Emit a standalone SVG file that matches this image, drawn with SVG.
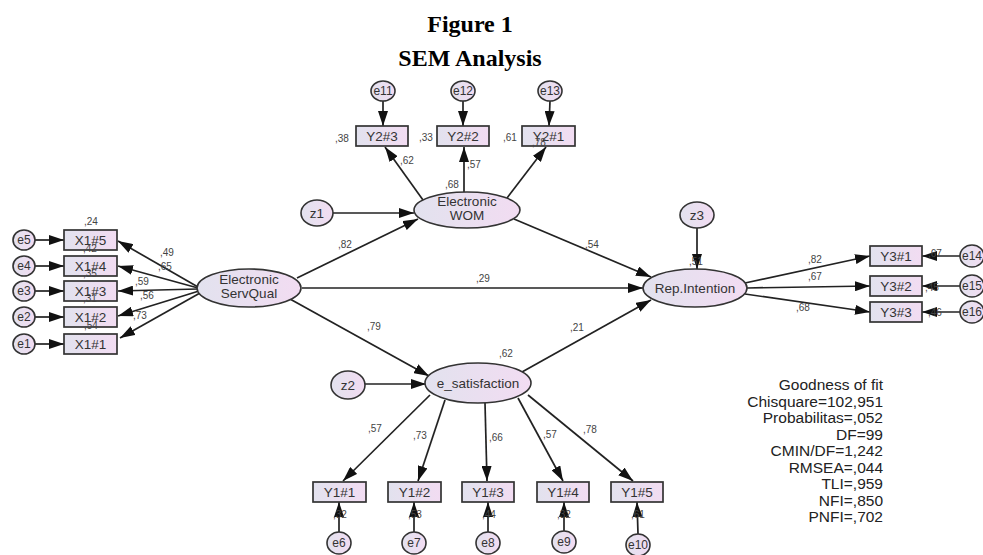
<svg xmlns="http://www.w3.org/2000/svg" width="983" height="555" viewBox="0 0 983 555">
<style>
.bx{fill:url(#g);stroke:#333;stroke-width:1.7}
.el{fill:url(#g);stroke:#333;stroke-width:1.6}
.t{font-family:"Liberation Sans",Arial,sans-serif;font-size:13.5px;fill:#333;text-anchor:middle}
.te{font-family:"Liberation Sans",Arial,sans-serif;font-size:12px;fill:#333;text-anchor:middle}
.p{font-family:"Liberation Sans",Arial,sans-serif;font-size:10px;fill:#444}
.c{stroke:#222;stroke-width:1.7;fill:none;marker-end:url(#a)}
.gf{font-family:"Liberation Sans",Arial,sans-serif;font-size:15.5px;fill:#222;text-anchor:end}
.ti{font-family:"Liberation Serif","Times New Roman",serif;font-size:24px;font-weight:bold;fill:#000;text-anchor:middle}
</style>
<defs>
<linearGradient id="g" x1="0" y1="0" x2="1" y2="0">
<stop offset="0" stop-color="#e2e2ee"/>
<stop offset="1" stop-color="#f2dcf2"/>
</linearGradient>
<marker id="a" markerUnits="userSpaceOnUse" markerWidth="15" markerHeight="10" refX="15" refY="5" orient="auto">
<path d="M0,0 L15,5 L0,10 z" fill="#111"/>
</marker>
</defs>
<rect width="983" height="555" fill="#fff"/>
<text class="ti" x="470" y="32">Figure 1</text>
<text class="ti" x="470" y="66">SEM Analysis</text>

<g id="connectors">
<line class="c" x1="35" y1="240" x2="64" y2="240"/>
<line class="c" x1="35" y1="266" x2="64" y2="266"/>
<line class="c" x1="35" y1="291" x2="64" y2="291"/>
<line class="c" x1="35" y1="317" x2="64" y2="317"/>
<line class="c" x1="35" y1="344" x2="64" y2="344"/>
<line class="c" x1="198" y1="287" x2="118" y2="241"/>
<line class="c" x1="198" y1="288" x2="118" y2="266"/>
<line class="c" x1="198" y1="289" x2="118" y2="291"/>
<line class="c" x1="199" y1="291" x2="118" y2="316"/>
<line class="c" x1="200" y1="293" x2="120" y2="338"/>
<line class="c" x1="383" y1="101" x2="383" y2="126"/>
<line class="c" x1="463" y1="101" x2="463" y2="126"/>
<line class="c" x1="550" y1="101" x2="549" y2="126"/>
<line class="c" x1="423" y1="200" x2="385" y2="147"/>
<line class="c" x1="464" y1="192" x2="464" y2="147"/>
<line class="c" x1="507" y1="198" x2="546" y2="147"/>
<line class="c" x1="333" y1="213" x2="414" y2="213"/>
<line class="c" x1="297" y1="278" x2="418" y2="219"/>
<line class="c" x1="302" y1="288" x2="643" y2="288"/>
<line class="c" x1="514" y1="219" x2="651" y2="277"/>
<line class="c" x1="522" y1="372" x2="651" y2="300"/>
<line class="c" x1="697" y1="228" x2="697" y2="269"/>
<line class="c" x1="745" y1="283" x2="870" y2="256"/>
<line class="c" x1="747" y1="288" x2="870" y2="286"/>
<line class="c" x1="745" y1="294" x2="870" y2="312"/>
<line class="c" x1="960" y1="256" x2="922" y2="256"/>
<line class="c" x1="960" y1="286" x2="922" y2="286"/>
<line class="c" x1="960" y1="312" x2="922" y2="312"/>
<line class="c" x1="365" y1="384" x2="426" y2="384"/>
<line class="c" x1="290" y1="299" x2="429" y2="376"/>
<line class="c" x1="430" y1="395" x2="343" y2="481"/>
<line class="c" x1="445" y1="400" x2="418" y2="481"/>
<line class="c" x1="485" y1="403" x2="487" y2="481"/>
<line class="c" x1="518" y1="398" x2="563" y2="481"/>
<line class="c" x1="528" y1="395" x2="633" y2="481"/>
<line class="c" x1="339" y1="532" x2="339" y2="502"/>
<line class="c" x1="414" y1="532" x2="414" y2="502"/>
<line class="c" x1="488" y1="532" x2="488" y2="502"/>
<line class="c" x1="564" y1="531" x2="564" y2="502"/>
<line class="c" x1="638" y1="534" x2="637" y2="502"/>
</g>

<g id="e5"><ellipse class="el" cx="24" cy="240" rx="11" ry="10"/><text class="te" x="24" y="244">e5</text></g>
<g id="e4"><ellipse class="el" cx="24" cy="266" rx="11" ry="10"/><text class="te" x="24" y="270">e4</text></g>
<g id="e3"><ellipse class="el" cx="24" cy="291" rx="11" ry="10"/><text class="te" x="24" y="295">e3</text></g>
<g id="e2"><ellipse class="el" cx="24" cy="317" rx="11" ry="10"/><text class="te" x="24" y="321">e2</text></g>
<g id="e1"><ellipse class="el" cx="24" cy="344" rx="11" ry="10"/><text class="te" x="24" y="348">e1</text></g>
<g id="X1_5"><rect class="bx" x="64" y="230" width="53" height="20"/><text class="t" x="90.5" y="245">X1#5</text></g>
<g id="X1_4"><rect class="bx" x="64" y="256" width="53" height="20"/><text class="t" x="90.5" y="271">X1#4</text></g>
<g id="X1_3"><rect class="bx" x="64" y="281" width="53" height="20"/><text class="t" x="90.5" y="296">X1#3</text></g>
<g id="X1_2"><rect class="bx" x="64" y="307" width="53" height="20"/><text class="t" x="90.5" y="322">X1#2</text></g>
<g id="X1_1"><rect class="bx" x="64" y="334" width="53" height="20"/><text class="t" x="90.5" y="349">X1#1</text></g>
<g id="ESQ"><ellipse class="el" cx="249" cy="288" rx="52" ry="19"/><text class="t" x="249" y="284">Electronic</text><text class="t" x="249" y="298">ServQual</text></g>

<g id="e11"><ellipse class="el" cx="383" cy="91" rx="12" ry="10"/><text class="te" x="383" y="95">e11</text></g>
<g id="e12"><ellipse class="el" cx="463" cy="91" rx="12" ry="10"/><text class="te" x="463" y="95">e12</text></g>
<g id="e13"><ellipse class="el" cx="550" cy="91" rx="12" ry="10"/><text class="te" x="550" y="95">e13</text></g>
<g id="Y2_3"><rect class="bx" x="356" y="126" width="52" height="20"/><text class="t" x="382" y="141">Y2#3</text></g>
<g id="Y2_2"><rect class="bx" x="437" y="126" width="52" height="20"/><text class="t" x="463" y="141">Y2#2</text></g>
<g id="Y2_1"><rect class="bx" x="522" y="126" width="53" height="20"/><text class="t" x="548.5" y="141">Y2#1</text></g>
<g id="z1"><ellipse class="el" cx="317" cy="213" rx="16" ry="13"/><text class="t" x="317" y="218">z1</text></g>
<g id="WOM"><ellipse class="el" cx="467" cy="210" rx="53" ry="18"/><text class="t" x="467" y="206">Electronic</text><text class="t" x="467" y="220">WOM</text></g>

<g id="z3"><ellipse class="el" cx="697" cy="215" rx="17" ry="13"/><text class="t" x="697" y="220">z3</text></g>
<g id="Rep"><ellipse class="el" cx="695" cy="288" rx="52" ry="19"/><text class="t" x="695" y="293">Rep.Intention</text></g>
<g id="Y3_1"><rect class="bx" x="870" y="246" width="52" height="20"/><text class="t" x="896" y="261">Y3#1</text></g>
<g id="Y3_2"><rect class="bx" x="870" y="276" width="52" height="20"/><text class="t" x="896" y="291">Y3#2</text></g>
<g id="Y3_3"><rect class="bx" x="870" y="302" width="52" height="20"/><text class="t" x="896" y="317">Y3#3</text></g>
<g id="e14"><ellipse class="el" cx="972" cy="256" rx="12" ry="11"/><text class="te" x="972" y="260">e14</text></g>
<g id="e15"><ellipse class="el" cx="972" cy="286" rx="12" ry="11"/><text class="te" x="972" y="290">e15</text></g>
<g id="e16"><ellipse class="el" cx="972" cy="312" rx="12" ry="11"/><text class="te" x="972" y="316">e16</text></g>

<g id="z2"><ellipse class="el" cx="348" cy="385" rx="17" ry="14"/><text class="t" x="348" y="390">z2</text></g>
<g id="esat"><ellipse class="el" cx="478" cy="383" rx="53" ry="20"/><text class="t" x="478" y="388">e_satisfaction</text></g>
<g id="Y1_1"><rect class="bx" x="313" y="482" width="53" height="20"/><text class="t" x="339.5" y="497">Y1#1</text></g>
<g id="Y1_2"><rect class="bx" x="388" y="482" width="53" height="20"/><text class="t" x="414.5" y="497">Y1#2</text></g>
<g id="Y1_3"><rect class="bx" x="462" y="482" width="52" height="20"/><text class="t" x="488" y="497">Y1#3</text></g>
<g id="Y1_4"><rect class="bx" x="537" y="482" width="52" height="20"/><text class="t" x="563" y="497">Y1#4</text></g>
<g id="Y1_5"><rect class="bx" x="611" y="482" width="52" height="20"/><text class="t" x="637" y="497">Y1#5</text></g>
<g id="e6"><ellipse class="el" cx="339" cy="543" rx="12" ry="11"/><text class="te" x="339" y="547">e6</text></g>
<g id="e7"><ellipse class="el" cx="414" cy="543" rx="12" ry="11"/><text class="te" x="414" y="547">e7</text></g>
<g id="e8"><ellipse class="el" cx="488" cy="543" rx="12" ry="11"/><text class="te" x="488" y="547">e8</text></g>
<g id="e9"><ellipse class="el" cx="564" cy="542" rx="12" ry="11"/><text class="te" x="564" y="546">e9</text></g>
<g id="e10"><ellipse class="el" cx="638" cy="545" rx="12" ry="11"/><text class="te" x="638" y="549">e10</text></g>

<g id="labels">
<text class="p" x="84" y="225">,24</text>
<text class="p" x="83" y="252">,42</text>
<text class="p" x="83" y="277">,35</text>
<text class="p" x="83" y="302">,31</text>
<text class="p" x="84" y="329">,54</text>
<text class="p" x="160" y="256">,49</text>
<text class="p" x="158" y="270">,65</text>
<text class="p" x="135" y="285">,59</text>
<text class="p" x="140" y="299">,56</text>
<text class="p" x="133" y="319">,73</text>
<text class="p" x="335" y="142">,38</text>
<text class="p" x="419" y="141">,33</text>
<text class="p" x="503" y="141">,61</text>
<text class="p" x="532" y="146">,78</text>
<text class="p" x="400" y="164">,62</text>
<text class="p" x="467" y="168">,57</text>
<text class="p" x="445" y="188">,68</text>
<text class="p" x="338" y="248">,82</text>
<text class="p" x="476" y="282">,29</text>
<text class="p" x="585" y="248">,54</text>
<text class="p" x="570" y="331">,21</text>
<text class="p" x="367" y="330">,79</text>
<text class="p" x="499" y="357">,62</text>
<text class="p" x="689" y="265">,51</text>
<text class="p" x="808" y="263">,82</text>
<text class="p" x="808" y="280">,67</text>
<text class="p" x="796" y="311">,68</text>
<text class="p" x="928" y="257">,67</text>
<text class="p" x="925" y="291">,45</text>
<text class="p" x="928" y="316">,46</text>
<text class="p" x="368" y="432">,57</text>
<text class="p" x="413" y="439">,73</text>
<text class="p" x="489" y="441">,66</text>
<text class="p" x="543" y="438">,57</text>
<text class="p" x="583" y="433">,78</text>
<text class="p" x="333" y="518">,32</text>
<text class="p" x="408" y="518">,53</text>
<text class="p" x="482" y="518">,44</text>
<text class="p" x="557" y="518">,32</text>
<text class="p" x="631" y="518">,61</text>
</g>

<g id="fit">
<text class="gf" x="883" y="390">Goodness of fit</text>
<text class="gf" x="883" y="406.5">Chisquare=102,951</text>
<text class="gf" x="883" y="423">Probabilitas=,052</text>
<text class="gf" x="883" y="439.5">DF=99</text>
<text class="gf" x="883" y="456">CMIN/DF=1,242</text>
<text class="gf" x="883" y="472.5">RMSEA=,044</text>
<text class="gf" x="883" y="489">TLI=,959</text>
<text class="gf" x="883" y="505.5">NFI=,850</text>
<text class="gf" x="883" y="522">PNFI=,702</text>
</g>
</svg>
